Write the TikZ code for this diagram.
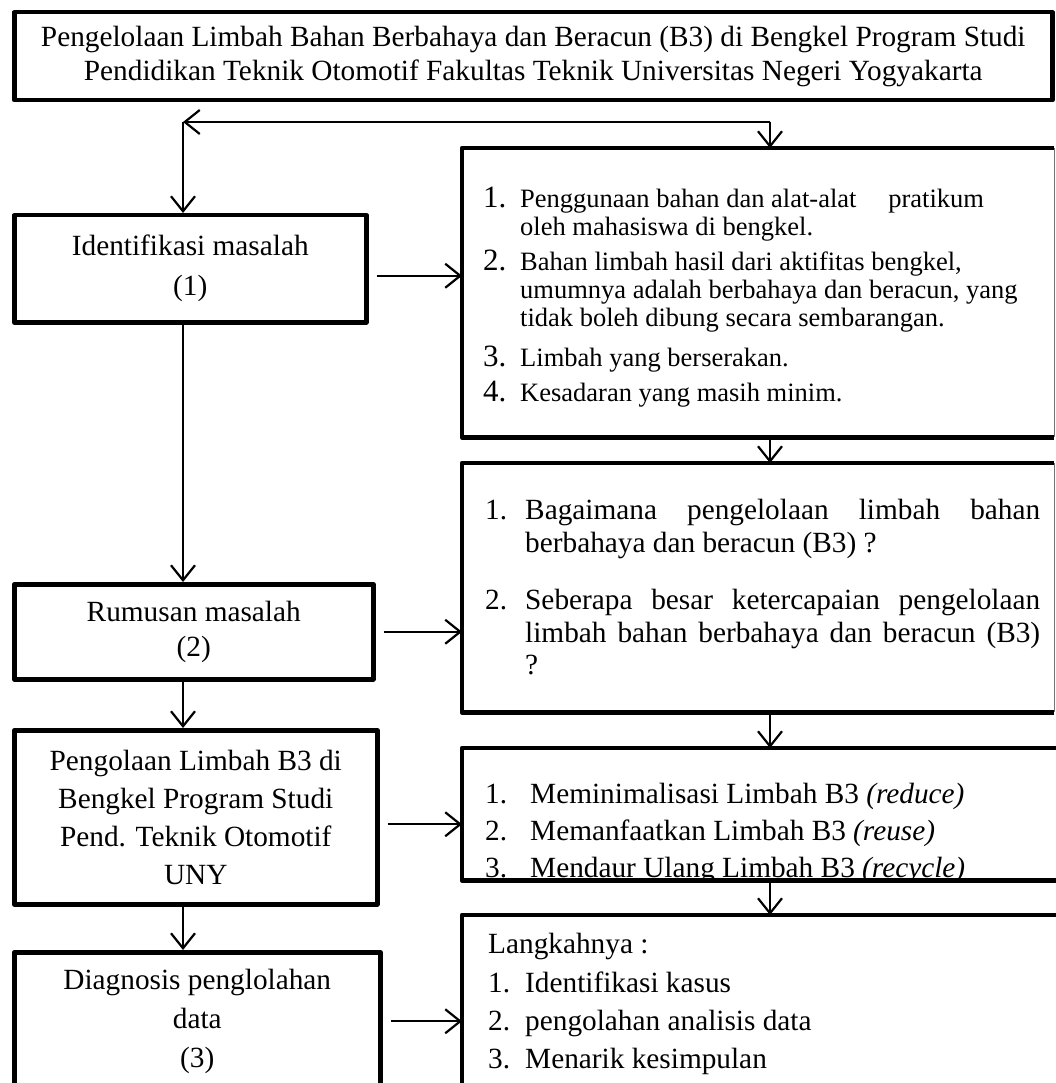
\documentclass[tikz,border=0pt]{standalone}
\usepackage{fontspec}
\setmainfont{Liberation Serif}
\usetikzlibrary{arrows.meta}

\tikzset{
  box/.style={draw, line width=4.5pt, line join=round, inner sep=0pt, anchor=north west, align=center},
  rbox/.style={inner sep=0pt, anchor=north west},
  tebal/.style={line width=4.5pt, line join=round},
  tipis/.style={line width=1.2pt, black!55},
  arr/.style={line width=2.2pt, -{Straight Barb[length=15pt,width=24pt]}},
  txt/.style={anchor=base west, inner sep=0pt, font=\fontsize{29.3}{34}\selectfont},
  kecil/.style={anchor=base west, inner sep=0pt, font=\fontsize{26.5}{30}\selectfont},
  nomor/.style={anchor=base west, inner sep=0pt, font=\fontsize{31}{34}\selectfont},
}

\begin{document}
\begin{tikzpicture}[x=1pt,y=-1pt]
\clip (0,0) rectangle (1056,1083);

% judul
\node[box, minimum width=1038pt, minimum height=88pt, font=\fontsize{29.3}{34}\selectfont] (judul) at (12,10)
  {Pengelolaan Limbah Bahan Berbahaya dan Beracun (B3) di Bengkel Program Studi\\
   Pendidikan Teknik Otomotif Fakultas Teknik Universitas Negeri Yogyakarta};

% kotak kiri
\node[box, minimum width=352pt, minimum height=107pt, font=\fontsize{29.3}{40}\selectfont] (idm) at (12,213)
  {Identifikasi masalah\\(1)};
\node[box, minimum width=359pt, minimum height=95pt, font=\fontsize{29.3}{35}\selectfont] (rm) at (12,582)
  {Rumusan masalah\\(2)};
\node[box, minimum width=363pt, minimum height=174pt, font=\fontsize{29.3}{38}\selectfont] (pl) at (12,728)
  {Pengolaan Limbah B3 di\\Bengkel Program Studi\\Pend. Teknik Otomotif\\UNY};
\node[box, minimum width=366pt, minimum height=138pt, font=\fontsize{29.3}{39}\selectfont] (dg) at (12,950)
  {Diagnosis penglolahan\\data\\(3)};

% kotak kanan
\node[rbox, minimum width=592pt, minimum height=289pt] (b1) at (462,148) {};
\node[rbox, minimum width=592pt, minimum height=249pt] (b2) at (462,463) {};
\node[rbox, minimum width=620pt, minimum height=132pt] (b3) at (462,748) {};
\node[rbox, minimum width=620pt, minimum height=200pt] (b4) at (462,915) {};

\draw[tebal] (b1.north east) -- (b1.north west) -- (b1.south west) -- (b1.south east);
\draw[tipis] (b1.north east) -- (b1.south east);
\draw[tebal] (b2.north east) -- (b2.north west) -- (b2.south west) -- (b2.south east);
\draw[tipis] (b2.north east) -- (b2.south east);
\draw[tebal] (b3.north east) -- (b3.north west) -- (b3.south west) -- (b3.south east);
\draw[tebal] (b4.north east) -- (b4.north west) -- (b4.south west) -- (b4.south east);

% isi kotak 1
\node[nomor] (n11) at (483,208) {1.};
\node[kecil] (t11) at (520,208) {Penggunaan bahan dan alat-alat\hspace{1.2em}pratikum};
\node[kecil] (t12) at (520,236) {oleh mahasiswa di bengkel.};
\node[nomor] (n12) at (483,270) {2.};
\node[kecil] (t13) at (520,270) {Bahan limbah hasil dari aktifitas bengkel,};
\node[kecil] (t14) at (520,298) {umumnya adalah berbahaya dan beracun, yang};
\node[kecil] (t15) at (520,326) {tidak boleh dibung secara sembarangan.};
\node[nomor] (n13) at (483,366) {3.};
\node[kecil] (t16) at (520,366) {Limbah yang berserakan.};
\node[nomor] (n14) at (483,401) {4.};
\node[kecil] (t17) at (520,401) {Kesadaran yang masih minim.};

% isi kotak 2
\node[txt] (n21) at (485,519) {1.};
\node[txt] (t21) at (525,519) {\makebox[515pt][s]{Bagaimana pengelolaan limbah bahan}};
\node[txt] (t22) at (525,552) {berbahaya dan beracun (B3) ?};
\node[txt] (n22) at (485,609) {2.};
\node[txt] (t23) at (525,609) {\makebox[515pt][s]{Seberapa besar ketercapaian pengelolaan}};
\node[txt] (t24) at (525,642) {\makebox[515pt][s]{limbah bahan berbahaya dan beracun (B3)}};
\node[txt] (t25) at (525,674) {?};

% isi kotak 3
\begin{scope}
\clip (b3.north west) rectangle ([yshift=2.25pt]b3.south east);
\node[txt] (n31) at (485,803) {1.};
\node[txt] (t31) at (530,803) {Meminimalisasi Limbah B3 \textit{(reduce)}};
\node[txt] (n32) at (485,840) {2.};
\node[txt] (t32) at (530,840) {Memanfaatkan Limbah B3 \textit{(reuse)}};
\node[txt] (n33) at (485,877) {3.};
\node[txt] (t33) at (530,877) {Mendaur Ulang Limbah B3 \textit{(recycle)}};
\end{scope}

% isi kotak 4
\node[txt] (t40) at (488,953) {Langkahnya :};
\node[txt] (n41) at (488,992) {1.};
\node[txt] (t41) at (525,992) {Identifikasi kasus};
\node[txt] (n42) at (488,1030) {2.};
\node[txt] (t42) at (525,1030) {pengolahan analisis data};
\node[txt] (n43) at (488,1068) {3.};
\node[txt] (t43) at (525,1068) {Menarik kesimpulan};

% panah
\coordinate (kiri) at (183,122);
\coordinate (kanan) at (770,122);
\draw[arr] (kanan) -- (kiri);
\draw[arr] (kiri) -- (kiri |- idm.north);
\draw[arr] (kanan) -- (kanan |- b1.north);
\draw[arr] (b1.south -| kanan) -- (b2.north -| kanan);
\draw[arr] (b2.south -| kanan) -- (b3.north -| kanan);
\draw[arr] (b3.south -| kanan) -- (b4.north -| kanan);

\draw[arr] (idm.south -| kiri) -- (rm.north -| kiri);
\draw[arr] (rm.south -| kiri) -- (pl.north -| kiri);
\draw[arr] (pl.south -| kiri) -- (dg.north -| kiri);

\draw[arr] ([xshift=8pt,yshift=-7pt]idm.east) -- ([yshift=-7pt]idm.east -| b1.west);
\draw[arr] ([xshift=8pt]rm.east) -- (rm.east -| b2.west);
\draw[arr] ([xshift=8pt,yshift=-7pt]pl.east) -- ([yshift=-7pt]pl.east -| b3.west);
\draw[arr] ([xshift=8pt]dg.east) -- (dg.east -| b4.west);
\end{tikzpicture}
\end{document}
